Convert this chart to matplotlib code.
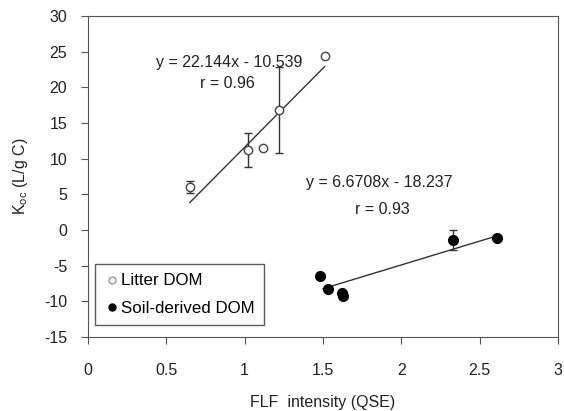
import numpy as np
import matplotlib.pyplot as plt
from matplotlib.lines import Line2D

plt.rcParams['font.family'] = ['Liberation Sans', 'DejaVu Sans']
plt.rcParams['font.size'] = 11.5
plt.rcParams['axes.unicode_minus'] = False

# litter DOM
litter_x = [0.65, 1.02, 1.12, 1.22, 1.51]
litter_y = [6.0, 11.2, 11.5, 16.8, 24.4]
litter_err = [0.8, 2.4, 0.0, 6.0, 0.0]

# soil-derived DOM
soil_x = [1.48, 1.53, 1.62, 1.63, 2.33, 2.61]
soil_y = [-6.5, -8.3, -8.8, -9.3, -1.4, -1.1]
soil_err = [0.0, 0.0, 0.0, 0.0, 1.4, 0.0]

# regression lines (from the equations on the chart)
litter_fit = (22.144, -10.539)
soil_fit = (6.6708, -18.237)

fig = plt.figure(figsize=(5.64, 4.11), dpi=100)
ax = fig.add_axes([88/564, 1 - 337/411, 470/564, 321/411])

ax.errorbar(litter_x, litter_y, yerr=litter_err, fmt='o', mfc='white', mec='#444444',
            ecolor='#333333', ms=6, capsize=3, elinewidth=1)
ax.errorbar(soil_x, soil_y, yerr=soil_err, fmt='o', mfc='black', mec='black',
            ecolor='#333333', ms=7, capsize=3, elinewidth=1)

xl = np.array([min(litter_x), max(litter_x)])
ax.plot(xl, litter_fit[0] * xl + litter_fit[1], color='#333333', lw=1)
xs = np.array([1.50, max(soil_x)])
ax.plot(xs, soil_fit[0] * xs + soil_fit[1], color='#333333', lw=1)

ax.text(0.90, 23.5, 'y = 22.144x - 10.539', ha='center', va='center', color='#222222')
ax.text(0.89, 20.6, 'r = 0.96', ha='center', va='center', color='#222222')
ax.text(1.86, 6.6, 'y = 6.6708x - 18.237', ha='center', va='center', color='#222222')
ax.text(1.88, 2.9, 'r = 0.93', ha='center', va='center', color='#222222')

ax.set_xlim(0, 3)
ax.set_ylim(-15, 30)
ax.set_xticks(np.arange(0, 3.01, 0.5))
ax.set_xticklabels(['0', '0.5', '1', '1.5', '2', '2.5', '3'])
ax.set_yticks(np.arange(-15, 31, 5))
ax.tick_params(direction='out', length=5, color='#555555', labelcolor='#222222')
ax.tick_params(axis='x', pad=14)
ax.tick_params(axis='y', pad=10)
for s in ax.spines.values():
    s.set_color('#555555')

ax.set_xlabel('FLF  intensity (QSE)', color='#222222', labelpad=12)
ax.set_ylabel('K$_{\\mathregular{oc}}$ (L/g C)', color='#222222', labelpad=10)

handles = [
    Line2D([], [], ls='none', marker='o', mfc='white', mec='#999999', ms=5),
    Line2D([], [], ls='none', marker='o', mfc='black', mec='black', ms=5),
]
leg = ax.legend(handles, ['Litter DOM', 'Soil-derived DOM'], loc='lower left',
                bbox_to_anchor=(0.005, 0.02), frameon=True, fancybox=False,
                edgecolor='#333333', handletextpad=0.15, handlelength=0.8,
                borderpad=0.55, labelspacing=0.75, borderaxespad=0.3,
                fontsize=12.2)
leg.get_frame().set_linewidth(1)

fig.savefig('out.png', dpi=100)
